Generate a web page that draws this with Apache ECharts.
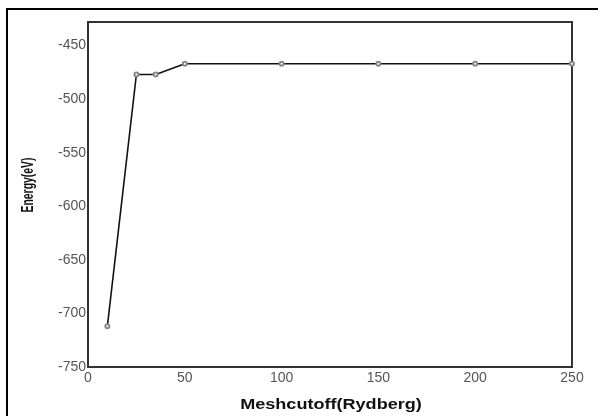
<!DOCTYPE html>
<html>
<head>
<meta charset="utf-8">
<script src="https://cdn.jsdelivr.net/npm/echarts@6/dist/echarts.min.js"></script>
<style>html,body{margin:0;padding:0;background:#fff}#c{width:598px;height:416px}</style>
</head>
<body>
<div id="c"></div>
<script>
var meshcutoff = [10, 25, 35, 50, 100, 150, 200, 250];
var energy = [-712, -477, -477, -467, -467, -467, -467, -467];
var xTitle = 'Meshcutoff(Rydberg)';
var yTitle = 'Energy(eV)';

var chart = echarts.init(document.getElementById('c'), null, {renderer: 'canvas'});
var pts = meshcutoff.map(function (x, i) { return [x, energy[i]]; });
chart.setOption({
  animation: false,
  backgroundColor: '#fff',
  grid: {left: 88, right: 26, top: 22, bottom: 49, show: true, borderColor: '#333', borderWidth: 2, backgroundColor: 'transparent'},
  xAxis: {
    type: 'value', min: 0, max: 250, interval: 50,
    axisLine: {show: true, lineStyle: {color: '#333', width: 2}},
    axisTick: {show: false},
    splitLine: {show: false},
    axisLabel: {fontFamily: 'Liberation Sans, Arial', fontSize: 14, color: '#555', margin: 4}
  },
  yAxis: {
    type: 'value', min: -750, max: -428, interval: 50,
    axisLine: {show: true, lineStyle: {color: '#333', width: 2}},
    axisTick: {show: false},
    splitLine: {show: false},
    axisLabel: {fontFamily: 'Liberation Sans, Arial', fontSize: 14, color: '#555', margin: 2, showMaxLabel: false}
  },
  graphic: [
    {type: 'rect', shape: {x: 7, y: 9, width: 700, height: 600}, style: {fill: 'none', stroke: '#000', lineWidth: 2}, silent: true},
    {type: 'text', x: 29, y: 185, rotation: Math.PI / 2, scaleX: 0.65,
     style: {text: yTitle, font: 'bold 16px "Liberation Sans", Arial', fill: '#111', align: 'center', verticalAlign: 'middle'}},
    {type: 'text', x: 331, y: 405, scaleX: 1.29,
     style: {text: xTitle, font: 'bold 14px "Liberation Sans", Arial', fill: '#111', align: 'center', verticalAlign: 'middle'}}
  ],
  series: [{
    type: 'line', data: pts,
    symbol: 'emptyCircle', symbolSize: 4,
    lineStyle: {color: '#111', width: 1.6},
    itemStyle: {color: '#888', borderColor: '#888', borderWidth: 1}
  }]
});
</script>
</body>
</html>
